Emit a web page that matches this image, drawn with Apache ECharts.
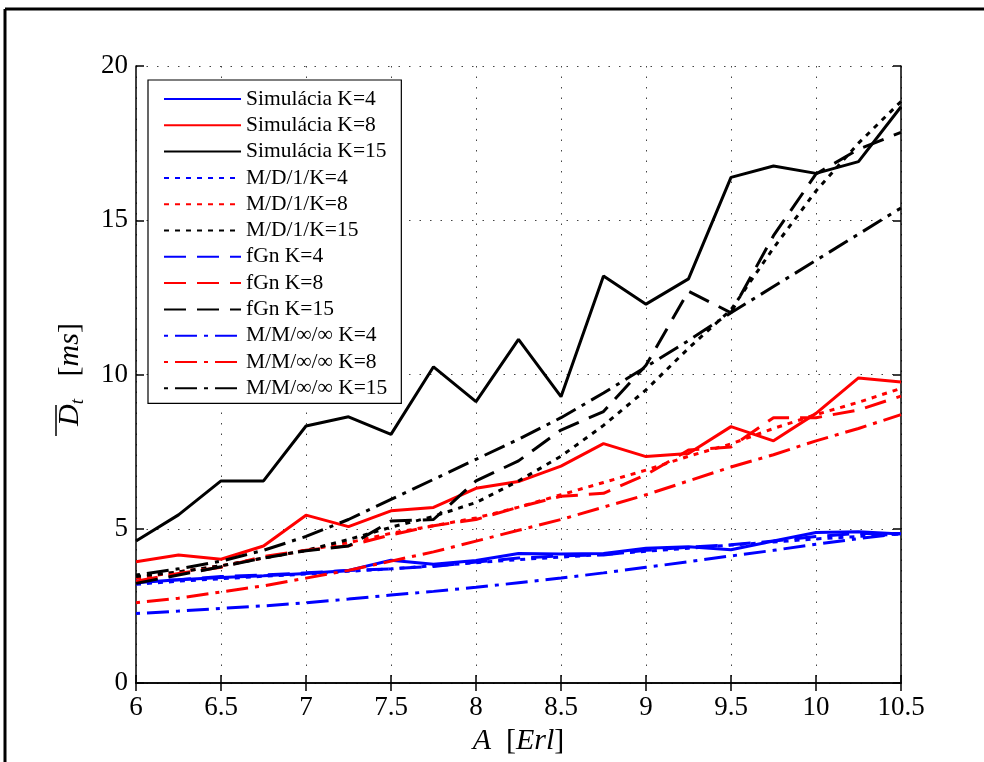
<!DOCTYPE html>
<html>
<head>
<meta charset="utf-8">
<script src="https://cdn.jsdelivr.net/npm/echarts@6/dist/echarts.min.js"></script>
<style>
  html, body { margin: 0; padding: 0; background: #fff; }
  #chart { width: 984px; height: 762px; }
</style>
</head>
<body>
<div id="chart"></div>
<script>
// data
var loadA = [6, 6.25, 6.5, 6.75, 7, 7.25, 7.5, 7.75, 8, 8.25, 8.5, 8.75, 9, 9.25, 9.5, 9.75, 10, 10.25, 10.5];
var xTicks = [6, 6.5, 7, 7.5, 8, 8.5, 9, 9.5, 10, 10.5];
var yTicks = [0, 5, 10, 15, 20];

var simK4  = [3.25, 3.35, 3.42, 3.48, 3.55, 3.65, 3.98, 3.85, 3.97, 4.2, 4.18, 4.2, 4.37, 4.42, 4.32, 4.6, 4.88, 4.9, 4.83];
var simK8  = [3.93, 4.15, 4.01, 4.44, 5.44, 5.07, 5.58, 5.69, 6.31, 6.53, 7.03, 7.76, 7.34, 7.44, 8.31, 7.85, 8.74, 9.89, 9.76];
var simK15 = [4.6, 5.45, 6.55, 6.55, 8.33, 8.63, 8.06, 10.25, 9.12, 11.14, 9.28, 13.19, 12.28, 13.1, 16.39, 16.76, 16.52, 16.9, 18.68];

var md1K4  = [3.2, 3.3, 3.38, 3.46, 3.53, 3.62, 3.7, 3.8, 3.9, 4.0, 4.08, 4.17, 4.27, 4.37, 4.47, 4.57, 4.67, 4.75, 4.83];
var md1K8  = [3.4, 3.6, 3.8, 4.05, 4.3, 4.55, 4.85, 5.1, 5.35, 5.7, 6.1, 6.5, 6.9, 7.35, 7.75, 8.25, 8.7, 9.1, 9.55];
var md1K15 = [3.45, 3.6, 3.8, 4.05, 4.3, 4.65, 5.05, 5.4, 5.85, 6.55, 7.35, 8.35, 9.5, 10.85, 12.1, 14.1, 15.95, 17.5, 18.85];

var fgnK4  = [3.3, 3.35, 3.45, 3.5, 3.57, 3.65, 3.7, 3.78, 3.92, 4.05, 4.12, 4.15, 4.3, 4.4, 4.48, 4.6, 4.75, 4.85, 4.85];
var fgnK8  = [3.3, 3.55, 3.75, 4.1, 4.3, 4.45, 4.8, 5.1, 5.3, 5.7, 6.05, 6.15, 6.75, 7.55, 7.65, 8.6, 8.6, 8.85, 9.3];
var fgnK15 = [3.23, 3.5, 3.77, 4.05, 4.29, 4.44, 5.25, 5.3, 6.55, 7.2, 8.2, 8.8, 10.3, 12.7, 12.0, 14.5, 16.5, 17.3, 17.85];

var mmK4   = [2.25, 2.33, 2.42, 2.5, 2.6, 2.72, 2.85, 2.97, 3.1, 3.25, 3.4, 3.57, 3.75, 3.93, 4.12, 4.3, 4.5, 4.68, 4.85];
var mmK8   = [2.6, 2.75, 2.95, 3.15, 3.4, 3.65, 3.95, 4.25, 4.6, 4.95, 5.3, 5.7, 6.1, 6.55, 7.0, 7.4, 7.85, 8.25, 8.7];
var mmK15  = [3.5, 3.7, 3.95, 4.3, 4.75, 5.3, 5.95, 6.6, 7.25, 7.9, 8.6, 9.4, 10.25, 11.1, 12.0, 12.85, 13.7, 14.55, 15.4];

var BLUE = '#0000ff', RED = '#ff0000', BLACK = '#000000';
var SOLID = 'solid', DOT = [5, 6], DASH = [22, 11], DASHDOT = [4, 7, 22, 7];
var FONT = '"Liberation Serif", "DejaVu Serif", serif';

function line(name, vals, color, dash) {
  return {
    name: name,
    type: 'line',
    data: loadA.map(function (a, i) { return [a, vals[i]]; }),
    showSymbol: false,
    symbol: 'none',
    symbolSize: 0,
    animation: false,
    lineStyle: { color: color, width: 3, type: dash },
    itemStyle: { color: color }
  };
}

var series = [
  line('Simulácia K=4', simK4, BLUE, SOLID),
  line('Simulácia K=8', simK8, RED, SOLID),
  line('Simulácia K=15', simK15, BLACK, SOLID),
  line('M/D/1/K=4', md1K4, BLUE, DOT),
  line('M/D/1/K=8', md1K8, RED, DOT),
  line('M/D/1/K=15', md1K15, BLACK, DOT),
  line('fGn K=4', fgnK4, BLUE, DASH),
  line('fGn K=8', fgnK8, RED, DASH),
  line('fGn K=15', fgnK15, BLACK, DASH),
  line('M/M/∞/∞ K=4', mmK4, BLUE, DASHDOT),
  line('M/M/∞/∞ K=8', mmK8, RED, DASHDOT),
  line('M/M/∞/∞ K=15', mmK15, BLACK, DASHDOT)
];

var chart = echarts.init(document.getElementById('chart'), null, { renderer: 'canvas' });

var gridDots = { show: true, lineStyle: { color: '#444', width: 1, type: [1.5, 9] } };
var tickIn = { show: true, inside: true, length: 8, lineStyle: { color: '#000', width: 1.5 } };

chart.setOption({
  backgroundColor: '#fff',
  animation: false,
  grid: { left: 136, top: 66, right: 83, bottom: 79, containLabel: false },
  legend: {
    orient: 'vertical',
    left: 148,
    top: 80,
    itemWidth: 77,
    itemHeight: 14,
    itemGap: 4.3,
    padding: [8, 14, 4, 15],
    backgroundColor: '#fff',
    borderColor: '#000',
    borderWidth: 1.2,
    borderRadius: 0,
    itemStyle: { opacity: 0 },
    textStyle: { fontFamily: FONT, fontSize: 21.5, color: '#000', lineHeight: 20 },
    data: series.map(function (s) { return s.name; })
  },
  xAxis: [{
    type: 'value',
    min: 6, max: 10.5, interval: 0.5,
    axisLine: { show: true, lineStyle: { color: '#000', width: 1.5 } },
    axisTick: tickIn,
    splitLine: gridDots,
    axisLabel: {
      fontFamily: FONT, fontSize: 27, color: '#000', margin: 11,
      formatter: function (v) { return xTicks.indexOf(v) >= 0 ? String(v) : ''; }
    },
    name: '{i|A}  [{i|Erl}]',
    nameLocation: 'middle',
    nameGap: 43,
    nameTextStyle: {
      fontFamily: FONT, fontSize: 30, color: '#000',
      rich: { i: { fontFamily: FONT, fontSize: 30, fontStyle: 'italic', color: '#000' } }
    }
  }, {
    type: 'value', position: 'top',
    min: 6, max: 10.5, interval: 0.5,
    axisLine: { show: true, lineStyle: { color: '#000', width: 1.5 } },
    axisTick: tickIn, axisLabel: { show: false }, splitLine: { show: false }
  }],
  yAxis: [{
    type: 'value',
    min: 0, max: 20, interval: 5,
    axisLine: { show: true, lineStyle: { color: '#000', width: 1.5 } },
    axisTick: tickIn,
    splitLine: gridDots,
    axisLabel: {
      fontFamily: FONT, fontSize: 27, color: '#000', margin: 8,
      formatter: function (v) { return yTicks.indexOf(v) >= 0 ? String(v) : ''; }
    },
    name: '{i|D}{s|t}   [{i|ms}]',
    nameLocation: 'middle',
    nameRotate: 90,
    nameGap: 49,
    nameTextStyle: {
      fontFamily: FONT, fontSize: 30, color: '#000',
      rich: {
        i: { fontFamily: FONT, fontSize: 30, fontStyle: 'italic', color: '#000' },
        s: { fontFamily: FONT, fontSize: 19, fontStyle: 'italic', color: '#000', verticalAlign: 'bottom', padding: [14, 0, 0, 0] }
      }
    }
  }, {
    type: 'value', position: 'right',
    min: 0, max: 20, interval: 5,
    axisLine: { show: true, lineStyle: { color: '#000', width: 1.5 } },
    axisTick: tickIn, axisLabel: { show: false }, splitLine: { show: false }
  }],
  graphic: [
    { type: 'line', shape: { x1: 5, y1: 9, x2: 984, y2: 9 }, style: { stroke: '#000', lineWidth: 3 } },
    { type: 'line', shape: { x1: 5, y1: 9, x2: 5, y2: 762 }, style: { stroke: '#000', lineWidth: 3 } },
    { type: 'line', shape: { x1: 56, y1: 405, x2: 56, y2: 436 }, style: { stroke: '#000', lineWidth: 1.5 } }
  ],
  series: series
});
</script>
</body>
</html>
